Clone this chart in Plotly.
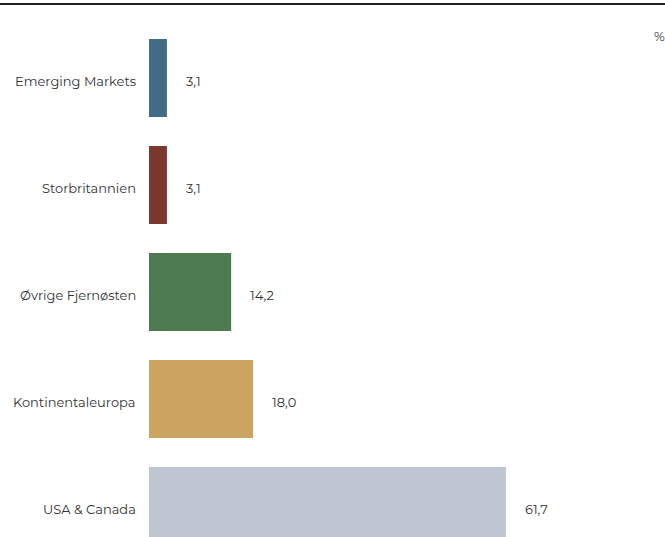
import plotly.graph_objects as go

# Regional allocation (%), listed bottom to top
regions = ["USA & Canada", "Kontinentaleuropa", "Øvrige Fjernøsten", "Storbritannien", "Emerging Markets"]
shares = [61.7, 18.0, 14.2, 3.1, 3.1]
colors = ["#bfc6d2", "#cca462", "#4e7a50", "#7b382e", "#456a86"]
value_labels = ["61,7", "18,0", "14,2", "3,1", "3,1"]

FONT = "Montserrat, Inter, Lato, sans-serif"
TXT = "#333333"
label_font = dict(family=FONT, size=13, color=TXT)

fig = go.Figure(
    go.Bar(
        x=shares,
        y=regions,
        orientation="h",
        marker=dict(color=colors, line=dict(width=0)),
        width=0.73,
        hoverinfo="skip",
    )
)

for reg, val, lab in zip(regions, shares, value_labels):
    # value to the right of the bar
    fig.add_annotation(
        x=val, y=reg, text=lab, showarrow=False,
        xanchor="left", yanchor="middle", xshift=17, yshift=-3,
        font=label_font,
    )
    # category name to the left of the axis
    fig.add_annotation(
        xref="paper", x=0, y=reg, text=reg, showarrow=False,
        xanchor="right", yanchor="middle", xshift=-11, yshift=-3,
        font=label_font,
    )

# Unit marker in the top-right corner
fig.add_annotation(
    xref="paper", yref="paper", x=1.0, y=0.977, text="%",
    showarrow=False, xanchor="right", yanchor="middle", xshift=2,
    font=label_font,
)

# Rule across the top of the figure
fig.add_shape(
    type="line", xref="paper", yref="paper",
    x0=-149 / 516, x1=1.0, y0=(537 - 4) / 513, y1=(537 - 4) / 513,
    line=dict(color="#222222", width=2),
)

fig.update_layout(
    width=665, height=537,
    margin=dict(l=149, r=0, t=24, b=0),
    paper_bgcolor="white", plot_bgcolor="white",
    showlegend=False,
    font=label_font,
    xaxis=dict(range=[0, 89.2], visible=False, fixedrange=True),
    yaxis=dict(
        range=[-0.29, 4.505], showgrid=False, zeroline=False, showline=False,
        ticks="", showticklabels=False, fixedrange=True,
    ),
)

fig.write_html("out.html")
